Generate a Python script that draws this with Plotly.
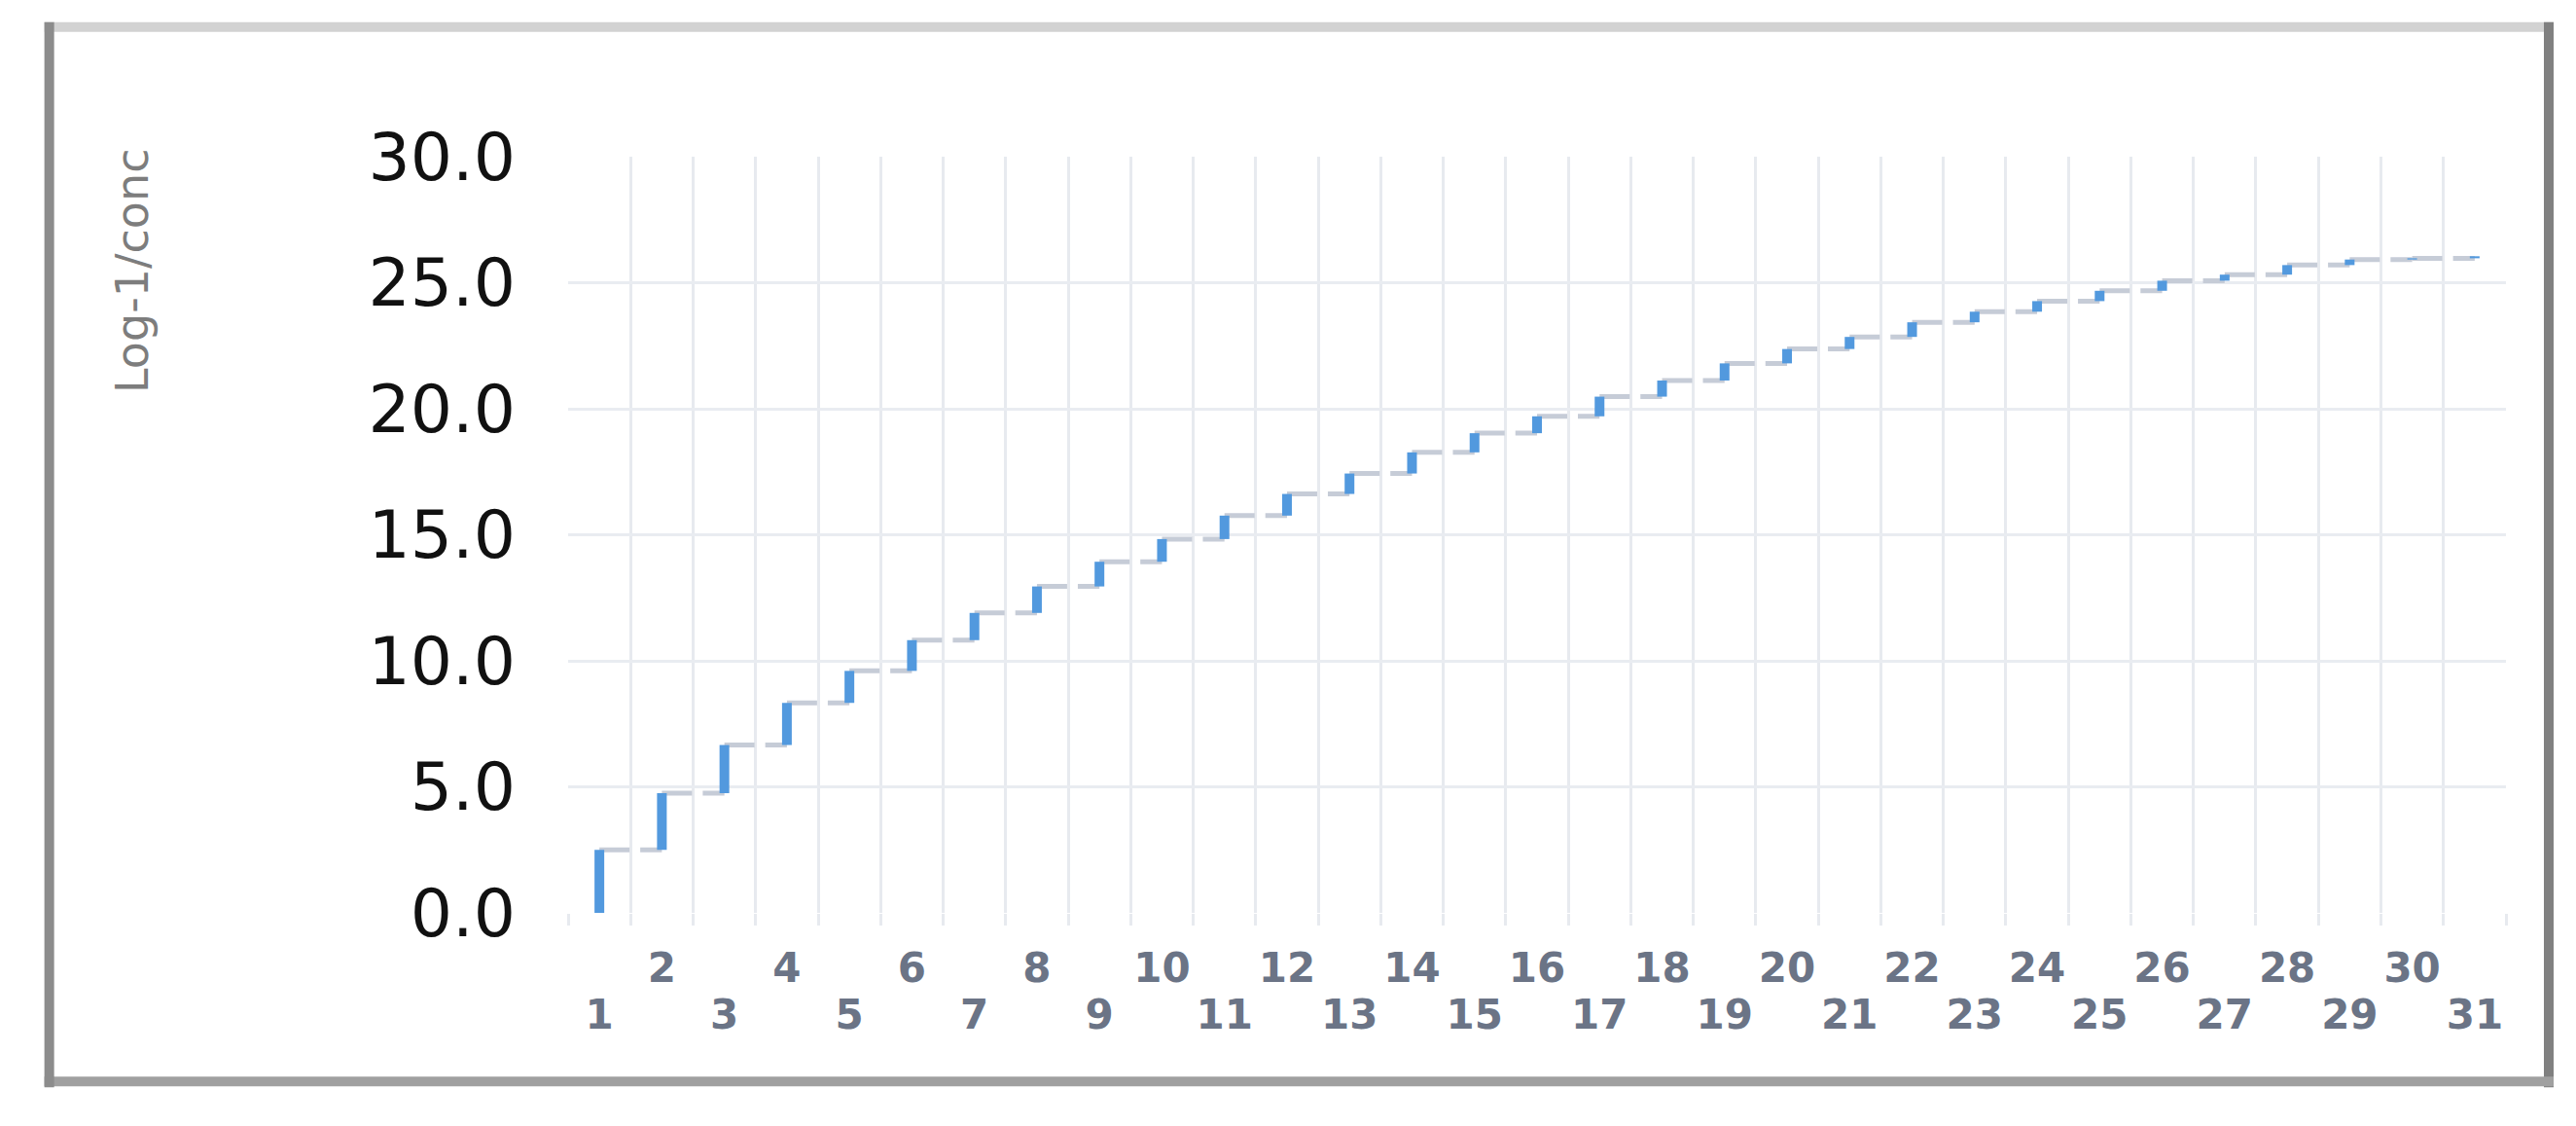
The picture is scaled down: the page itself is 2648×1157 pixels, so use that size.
import plotly.graph_objects as go

# ---- data ----
categories = list(range(1, 32))
values = [2.5, 4.75, 6.66, 8.33, 9.6, 10.82, 11.9, 12.95, 13.93, 14.83,
          15.76, 16.62, 17.43, 18.27, 19.03, 19.7, 20.48, 21.12, 21.8, 22.37,
          22.85, 23.43, 23.85, 24.27, 24.68, 25.08, 25.32, 25.7, 25.92, 25.97,
          26.05]
y_ticks = [0, 5, 10, 15, 20, 25, 30]
y_ticklabels = ["0.0", "5.0", "10.0", "15.0", "20.0", "25.0", "30.0"]
y_title = "Log-1/conc"

# ---- layout geometry (page pixels; page body has an 8px margin) ----
OFF = 8
PAGE_W, PAGE_H = 2648, 1157
W, H = PAGE_W - OFF, PAGE_H - OFF
L, R, T, B = 583.5, 2576, 160.5, 938.5


def px_x(p):
    return (p - L) / (R - L)


def px_y(p):
    return (B - p) / (B - T)


# vertical risers (blue) and horizontal treads (grey dashed)
vx, vy, hx, hy = [], [], [], []
prev = 0.0
for i, (c, v) in enumerate(zip(categories, values)):
    vx += [c, c, None]
    vy += [prev, v, None]
    if i < len(categories) - 1:
        hx += [c, categories[i + 1], None]
        hy += [v, v, None]
    prev = v

even_cats = [c for c in categories if c % 2 == 0]
odd_cats = [c for c in categories if c % 2 == 1]

fig = go.Figure()
fig.add_trace(go.Scatter(x=hx, y=hy, mode="lines", hoverinfo="skip",
                         line=dict(color="#c6ccd7", width=5, dash="31px,11px,40px"),
                         showlegend=False))
fig.add_trace(go.Scatter(x=vx, y=vy, mode="lines",
                         line=dict(color="#5299de", width=10),
                         showlegend=False))
# invisible carrier for the second (odd-label) category row
fig.add_trace(go.Scatter(x=odd_cats, y=[None] * len(odd_cats), xaxis="x2",
                         mode="markers", hoverinfo="skip", showlegend=False))

xrange = [categories[0] - 0.5, categories[-1] + 0.5]
xfont = dict(family="DejaVu Sans", size=42, color="#6b7486", weight="bold")

fig.update_layout(
    xaxis=dict(
        range=xrange, tickmode="array", tickvals=even_cats,
        ticktext=[str(c) for c in even_cats],
        showgrid=False, zeroline=False, showline=False, ticks="",
        ticklabelstandoff=28, tickfont=xfont,
        minor=dict(tickvals=[c - 0.5 for c in categories] + [categories[-1] + 0.5],
                   showgrid=True, gridcolor="#e7eaef", gridwidth=3,
                   ticks="outside", ticklen=12, tickcolor="#e7eaef", tickwidth=3),
    ),
    xaxis2=dict(
        range=xrange, overlaying="x", side="bottom", anchor="y",
        tickmode="array", tickvals=odd_cats, ticktext=[str(c) for c in odd_cats],
        showgrid=False, zeroline=False, showline=False, ticks="",
        ticklabelstandoff=76, tickfont=xfont,
    ),
    yaxis=dict(
        range=[0, 30], tickmode="array", tickvals=y_ticks, ticktext=y_ticklabels,
        showgrid=True, gridcolor="#e9ecf1", gridwidth=3, zeroline=False,
        showline=False, ticks="", ticklabelstandoff=53,
        tickfont=dict(family="DejaVu Sans", size=68, color="#111111"),
    ),
)

fig.add_annotation(text=y_title, xref="paper", yref="paper",
                   x=px_x(136), y=px_y(278), textangle=-90, showarrow=False,
                   xanchor="center", yanchor="middle",
                   font=dict(family="DejaVu Sans", size=46, color="#7d7d7d"))

# outer frame
frame = [
    (45, 27, 2625, 27, "#d2d2d2"),
    (2620, 22, 2620, 1118, "#808080"),
    (45, 1112, 2625, 1112, "#a0a0a0"),
    (50, 22, 50, 1118, "#8c8c8c"),
]
for x0, y0, x1, y1, col in frame:
    fig.add_shape(type="line", xref="paper", yref="paper",
                  x0=px_x(x0), y0=px_y(y0), x1=px_x(x1), y1=px_y(y1),
                  line=dict(color=col, width=10), layer="above")

fig.update_layout(
    width=W, height=H, autosize=False,
    margin=dict(l=L - OFF, r=PAGE_W - R, t=T - OFF, b=PAGE_H - B, pad=0),
    paper_bgcolor="white", plot_bgcolor="white",
)

fig.write_html("out.html")
